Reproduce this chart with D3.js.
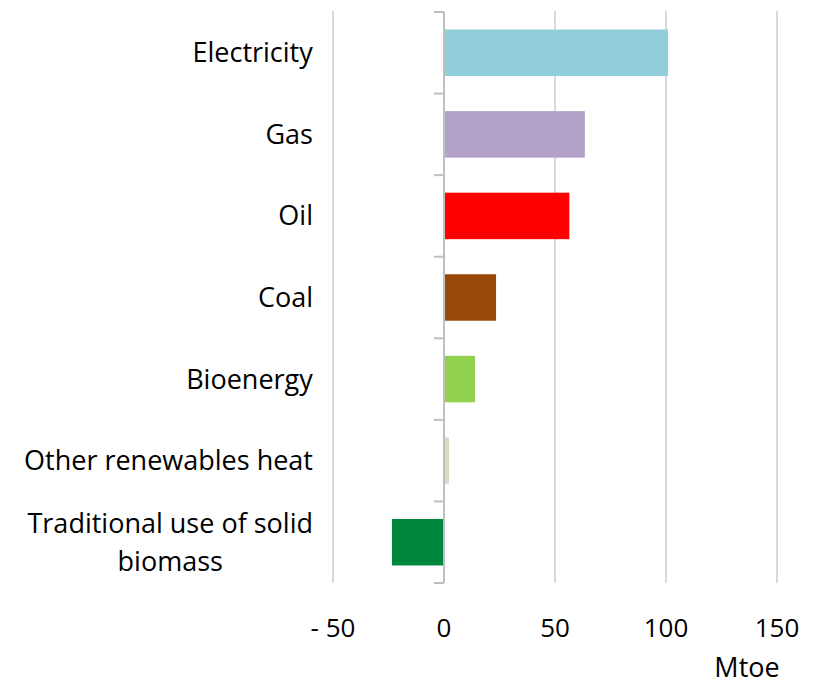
<!DOCTYPE html>
<html>
<head>
<meta charset="utf-8">
<script src="https://cdn.jsdelivr.net/npm/d3@7"></script>
<style>
  html, body { margin: 0; padding: 0; background: #fff; }
  svg { display: block; }
  text { font-family: "Open Sans", "Noto Sans", sans-serif; fill: #000; }
</style>
</head>
<body>
<svg id="chart" width="813" height="686"></svg>
<script>
const categories = ["Electricity", "Gas", "Oil", "Coal", "Bioenergy", "Other renewables heat", "Traditional use of solid biomass"];
const categoryLines = [["Electricity"], ["Gas"], ["Oil"], ["Coal"], ["Bioenergy"], ["Other renewables heat"], ["Traditional use of solid", "biomass"]];
const values = [100.5, 63, 56, 23, 13.5, 1.8, -23];
const colors = ["#92CDDC", "#B3A2C7", "#FF0000", "#984807", "#92D050", "#DDD9C3", "#00873E"];
const tickValues = [-50, 0, 50, 100, 150];
const tickLabels = ["- 50", "0", "50", "100", "150"];
const axisTitle = "Mtoe";

const svg = d3.select("#chart");
const margin = { left: 333, right: 36, top: 12, bottom: 103 };
const W = 813, H = 686;

const x = d3.scaleLinear().domain([-50, 150]).range([margin.left, W - margin.right]);
const y = d3.scaleBand().domain(categories).range([margin.top, H - margin.bottom])
  .paddingInner(0.43).paddingOuter(0.215);

// gridlines
svg.append("g")
  .selectAll("line")
  .data(tickValues.filter(v => v !== 0))
  .join("line")
  .attr("x1", d => x(d)).attr("x2", d => x(d))
  .attr("y1", margin.top - 1).attr("y2", H - margin.bottom)
  .attr("stroke", "#d9d9d9").attr("stroke-width", 2);

// bars
svg.append("g")
  .selectAll("rect")
  .data(categories)
  .join("rect")
  .attr("x", (d, i) => Math.min(x(0), x(values[i])) + (values[i] >= 0 ? 1 : -1))
  .attr("width", (d, i) => Math.abs(x(values[i]) - x(0)))
  .attr("y", d => y(d))
  .attr("height", y.bandwidth())
  .attr("fill", (d, i) => colors[i]);

// vertical category axis at zero
const step = y.step();
const boundaries = d3.range(categories.length + 1).map(i => margin.top + i * step);
svg.append("line")
  .attr("x1", x(0)).attr("x2", x(0))
  .attr("y1", margin.top).attr("y2", H - margin.bottom)
  .attr("stroke", "#bfbfbf").attr("stroke-width", 2);
svg.append("g")
  .selectAll("line")
  .data(boundaries)
  .join("line")
  .attr("x1", x(0) - 10).attr("x2", x(0))
  .attr("y1", d => d).attr("y2", d => d)
  .attr("stroke", "#bfbfbf").attr("stroke-width", 2);

// category labels
const labelX = 313;
const fs = 27;
const lineH = 38;
categories.forEach((c, i) => {
  const lines = categoryLines[i];
  const cy = y(c) + y.bandwidth() / 2;
  const g = svg.append("text")
    .attr("font-size", fs)
    .attr("text-anchor", "middle");
  lines.forEach((ln, j) => {
    g.append("tspan")
      .attr("x", 0)
      .attr("y", cy + (j - (lines.length - 1) / 2) * lineH)
      .attr("dy", "0.35em")
      .text(ln);
  });
  const bb = g.node().getBBox();
  g.selectAll("tspan").attr("x", labelX - bb.width / 2);
});

// x tick labels
svg.append("g")
  .selectAll("text")
  .data(tickValues)
  .join("text")
  .attr("x", d => x(d))
  .attr("y", 628)
  .attr("dy", "0.35em")
  .attr("text-anchor", "middle")
  .attr("font-size", 26)
  .text((d, i) => tickLabels[i]);

svg.append("text")
  .attr("x", 747).attr("y", 668).attr("dy", "0.35em")
  .attr("text-anchor", "middle")
  .attr("font-size", fs)
  .text(axisTitle);
</script>
</body>
</html>
